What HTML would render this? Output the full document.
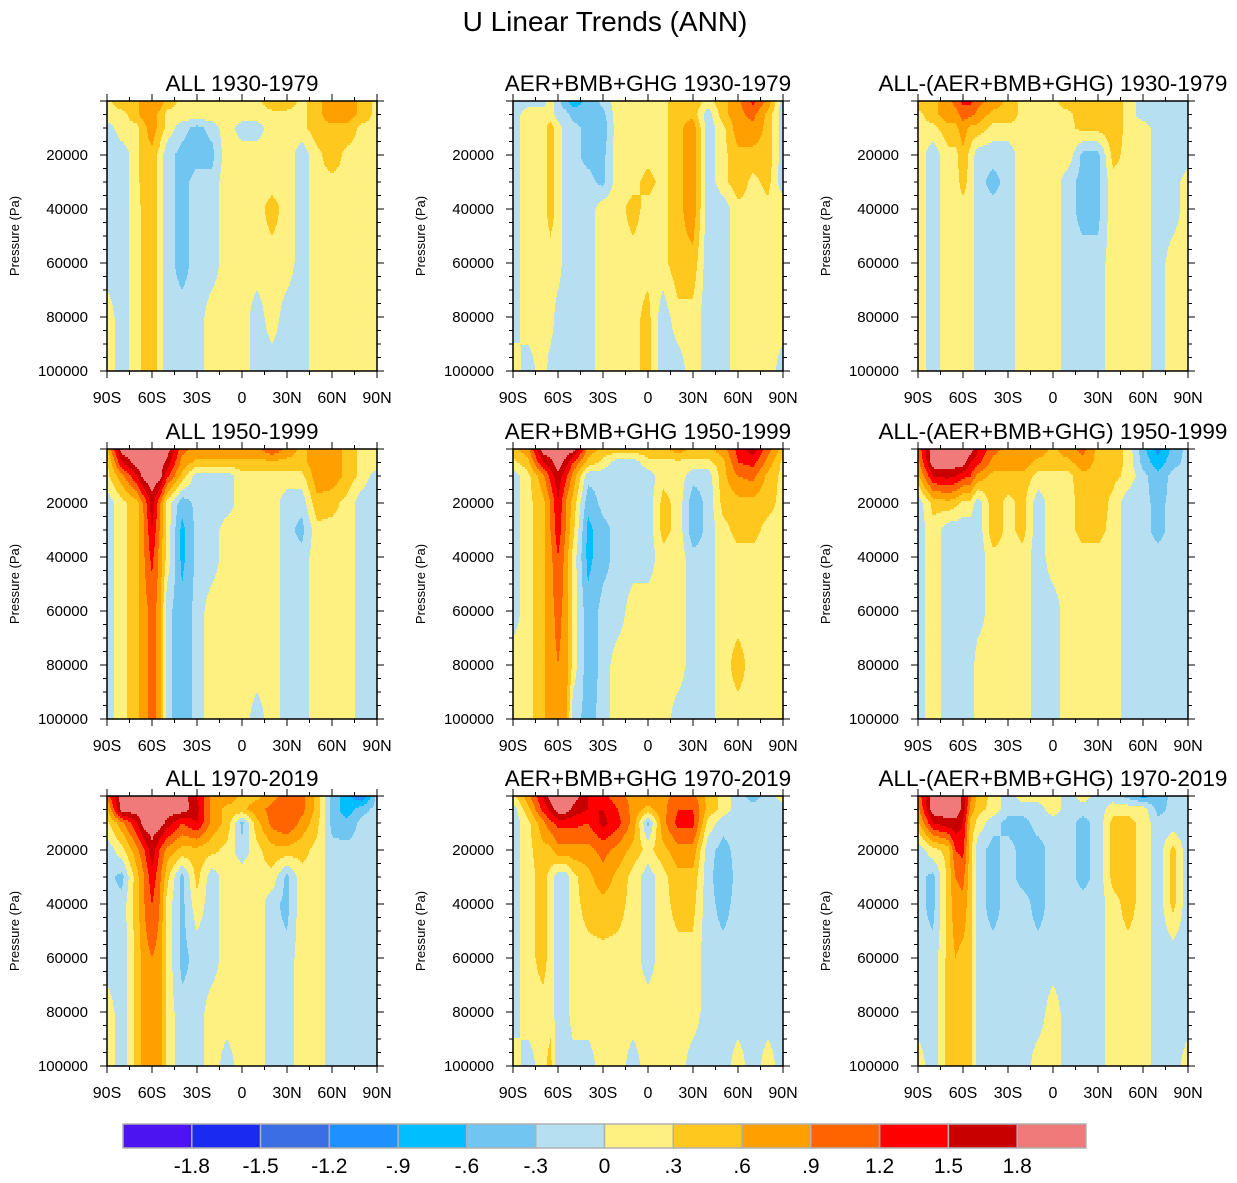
<!DOCTYPE html>
<html><head><meta charset="utf-8"><title>U Linear Trends (ANN)</title>
<style>
html,body{margin:0;padding:0;background:#fff;}
svg{display:block;font-family:"Liberation Sans",sans-serif;}
</style></head>
<body>
<svg id="fig" width="1237" height="1183" viewBox="0 0 1237 1183" xmlns="http://www.w3.org/2000/svg">
<text x="605" y="31" font-size="28" text-anchor="middle">U Linear Trends (ANN)</text>
</svg>
<script>
const lats = [-90,-80,-70,-65,-60,-55,-50,-40,-30,-20,-10,0,10,20,30,40,50,60,70,80,90];
const pressures = [0,5000,10000,20000,30000,40000,60000,80000,100000];
const titles = ["ALL 1930-1979","AER+BMB+GHG 1930-1979","ALL-(AER+BMB+GHG) 1930-1979",
"ALL 1950-1999","AER+BMB+GHG 1950-1999","ALL-(AER+BMB+GHG) 1950-1999",
"ALL 1970-2019","AER+BMB+GHG 1970-2019","ALL-(AER+BMB+GHG) 1970-2019"];
const yTicks = [20000,40000,60000,80000,100000];
const xTickLats = [-90,-60,-30,0,30,60,90];
const xTickLabels = ["90S","60S","30S","0","30N","60N","90N"];
const levels = [-1.8,-1.5,-1.2,-0.9,-0.6,-0.3,0,0.3,0.6,0.9,1.2,1.5,1.8];
const levelLabels = ["-1.8","-1.5","-1.2","-.9","-.6","-.3","0",".3",".6",".9","1.2","1.5","1.8"];
const palette = ["#4B14F0","#1A2AF0","#3C6EE3","#1E90FF","#00BEFF","#70C6F0","#B6DFF1","#FFF17F","#FFC81E","#FFA000","#FF6400","#FF0000","#C80000","#F07A7A"];

const panel1 = [
[.2,.5,.5,.8,.8,.8,.5,.2,.2,.2,.2,.2,.2,.5,.5,.2,.5,.8,.8,.5,.2],
[.2,.2,.5,.8,.8,.5,.2,.2,.2,.2,.2,.2,.2,.2,.2,.2,.5,.8,.8,.5,.2],
[-.2,.2,.2,.5,.8,.5,.2,-.2,-.4,-.2,.2,-.2,-.2,.2,.2,.2,.5,.5,.5,.2,.2],
[-.2,-.2,.2,.5,.5,.2,-.2,-.4,-.4,-.4,.2,.2,.2,.2,.2,-.2,.2,.5,.2,.2,.2],
[-.2,-.2,.2,.5,.5,.2,-.2,-.4,-.2,-.2,.2,.2,.2,.2,.2,-.2,.2,.2,.2,.2,.2],
[-.2,-.2,.2,.4,.5,.2,-.2,-.4,-.2,-.2,.2,.2,.2,.4,.2,-.2,.2,.2,.2,.2,.2],
[-.2,-.2,.2,.4,.5,.2,-.2,-.4,-.2,-.2,.2,.2,.2,.2,.2,-.2,.2,.2,.2,.2,.2],
[.2,-.2,.2,.4,.5,.2,-.2,-.2,-.2,.2,.2,.2,-.2,.2,-.2,-.2,.2,.2,.2,.2,.2],
[.2,-.2,.2,.4,.5,.2,-.2,-.2,-.2,.2,.2,.2,-.2,-.2,-.2,-.2,.2,.2,.2,.2,.2]];
const panel2 = [
[-.2,-.2,-.2,.2,-.2,-.5,-.8,-.5,-.2,.2,.2,.2,.2,.5,.5,.2,.5,.8,1.3,.8,-.2],
[-.2,.2,.2,.2,-.2,-.2,-.4,-.5,-.4,.2,.2,.2,.2,.5,.5,-.2,.5,.8,1.0,.5,-.2],
[-.2,.2,.2,.4,.2,-.2,-.2,-.4,-.5,.2,.2,.2,.2,.5,.8,-.2,.2,.8,.8,.5,-.2],
[-.2,.2,.2,.4,.2,-.2,-.2,-.4,-.4,.2,.2,.2,.2,.5,.8,-.2,.2,.5,.5,.5,-.2],
[-.2,.2,.2,.4,.2,-.2,-.2,-.2,-.4,.2,.2,.4,.2,.5,.8,-.2,.2,.5,.2,.4,-.2],
[-.2,.2,.2,.4,.2,-.2,-.2,-.2,.2,.2,.4,.2,.2,.5,.8,-.2,-.2,.2,.2,.2,.2],
[-.2,.2,.2,.2,.2,-.2,-.2,-.2,.2,.2,.2,.2,.2,.5,.5,-.2,-.2,.2,.2,.2,.2],
[-.2,.2,.2,.2,-.2,-.2,-.2,-.2,.2,.2,.2,.4,-.2,.2,.2,-.2,-.2,.2,.2,.2,.2],
[.2,-.2,.2,-.2,-.2,-.2,-.2,-.2,.2,.2,.2,.4,-.2,-.2,.2,-.2,-.2,.2,.2,.2,-.2]];
const panel3 = [
[.5,.5,.8,1.0,1.3,1.3,1.0,.8,.5,.2,.2,.2,.5,.5,.5,.5,.2,-.2,-.2,-.2,-.2],
[.2,.5,.8,.8,1.0,1.0,.8,.5,.5,.2,.2,.2,.2,.5,.5,.5,.2,-.2,-.2,-.2,-.2],
[.2,.2,.5,.5,.8,.5,.5,.2,.2,.2,.2,.2,.2,.4,.4,.5,.2,.2,-.2,-.2,-.2],
[.2,-.2,.2,.2,.5,.2,-.2,-.2,-.2,.2,.2,.2,.2,-.4,-.4,.4,.2,.2,-.2,-.2,-.2],
[.2,-.2,.2,.2,.4,.2,-.2,-.4,-.2,.2,.2,.2,-.2,-.4,-.4,.2,.2,.2,-.2,-.2,.2],
[.2,-.2,.2,.2,.2,.2,-.2,-.2,-.2,.2,.2,.2,-.2,-.4,-.4,.2,.2,.2,-.2,-.2,.2],
[.2,-.2,.2,.2,.2,.2,-.2,-.2,-.2,.2,.2,.2,-.2,-.2,-.2,.2,.2,.2,-.2,.2,.2],
[.2,-.2,.2,.2,.2,.2,-.2,-.2,-.2,.2,.2,.2,-.2,-.2,-.2,.2,.2,.2,-.2,.2,.2],
[.2,-.2,.2,.2,.2,.2,-.2,-.2,-.2,.2,.2,.2,-.2,-.2,-.2,.2,.2,.2,-.2,.2,.2]];
const panel4 = [
[.5,2,2,2,2,2,2,1.0,.8,.8,.8,.8,.8,1.2,.8,.5,.8,.8,.5,.2,.2],
[.2,1.5,2,2,2,2,1.7,.8,.5,.5,.5,.5,.5,.5,.5,.5,.8,.8,.5,.2,.2],
[.2,.8,1.5,2,2,2,1.3,.5,-.2,-.2,-.2,.2,.2,.2,.2,.2,.8,.8,.5,.2,-.2],
[-.2,.2,.5,1.0,1.7,1.0,.2,-.5,-.2,-.2,-.2,.2,.2,.2,-.2,-.2,.5,.4,.2,-.2,-.2],
[-.2,.2,.5,.9,1.5,.9,.2,-.7,-.2,-.2,.2,.2,.2,.2,-.2,-.4,.2,.2,.2,-.2,-.2],
[-.2,.2,.5,.9,1.3,.8,.2,-.7,-.2,-.2,.2,.2,.2,.2,-.2,-.2,.2,.2,.2,-.2,-.2],
[-.2,.2,.5,.8,1.0,.8,-.2,-.5,-.2,.2,.2,.2,.2,.2,-.2,-.2,.2,.2,.2,-.2,-.2],
[-.2,.2,.5,.8,1.0,.8,-.2,-.5,-.2,.2,.2,.2,.2,.2,-.2,-.2,.2,.2,.2,-.2,-.2],
[-.2,.2,.5,.8,1.0,.8,-.2,-.5,-.2,.2,.2,.2,-.2,.2,-.2,-.2,.2,.2,.2,-.2,-.2]];
const panel5 = [
[.5,.8,2,2,2,2,2,.8,.5,.5,.5,.5,.5,.8,.5,.5,.8,1.3,1.7,1.0,.5],
[.2,.5,1.5,1.7,2,1.7,1.2,.5,.2,-.2,-.2,.2,.2,.2,.2,.2,.5,1.2,1.3,.8,.2],
[-.2,.2,.8,1.3,1.7,1.3,.8,-.2,-.2,-.2,-.2,-.2,.2,.2,-.2,-.2,.5,.9,1.0,.5,.2],
[-.2,.2,.5,.9,1.5,.9,.5,-.5,-.2,-.2,-.2,-.2,.4,.2,-.5,-.2,.4,.5,.5,.4,.2],
[-.2,.2,.5,.9,1.4,.9,.4,-.7,-.4,-.2,-.2,-.2,.4,.2,-.5,-.2,.2,.4,.4,.2,.2],
[-.2,.2,.5,.8,1.2,.8,.2,-.7,-.4,-.2,-.2,-.2,.2,.2,-.2,-.2,.2,.2,.2,.2,.2],
[-.2,.2,.5,.8,1.0,.8,.2,-.5,-.2,-.2,.2,.2,.2,.2,-.2,-.2,.2,.2,.2,.2,.2],
[.2,.2,.5,.8,.9,.8,.2,-.5,-.2,.2,.2,.2,.2,.2,-.2,-.2,.2,.4,.2,.2,.2],
[.2,.2,.5,.8,.9,.8,-.2,-.4,-.2,.2,.2,.2,.2,-.2,-.2,-.2,.2,.2,.2,.2,.2]];
const panel6 = [
[1.0,2,2,2,2,2,1.5,1.0,.8,.8,.8,.5,.8,1.0,.5,.5,.2,-.5,-1.0,-.5,-.2],
[.8,2,2,2,2,1.5,1.3,.8,.8,.8,.5,.5,.5,.8,.5,.5,.2,-.4,-.8,-.4,-.2],
[.5,1.5,1.6,1.5,1.3,1.2,.8,.5,.5,.5,.2,.2,.2,.5,.5,.4,.2,-.2,-.5,-.2,-.2],
[-.2,.4,.5,.4,.2,.2,-.2,.5,.2,.4,-.2,.2,.2,.4,.5,.2,-.2,-.2,-.4,-.2,-.2],
[-.2,.2,-.2,-.2,-.2,-.2,-.2,.5,.2,.4,-.2,.2,.2,.4,.4,.2,-.2,-.2,-.4,-.2,-.2],
[-.2,.2,-.2,-.2,-.2,-.2,-.2,.2,.2,.2,-.2,.2,.2,.2,.2,.2,-.2,-.2,-.2,-.2,-.2],
[-.2,.2,-.2,-.2,-.2,-.2,-.2,.2,.2,.2,-.2,-.2,.2,.2,.2,.2,-.2,-.2,-.2,-.2,-.2],
[-.2,.2,-.2,-.2,-.2,-.2,.2,.2,.2,.2,-.2,-.2,.2,.2,.2,.2,-.2,-.2,-.2,-.2,-.2],
[-.2,.2,-.2,-.2,-.2,-.2,.2,.2,.2,.2,-.2,-.2,.2,.2,.2,.2,-.2,-.2,-.2,-.2,-.2]];
const panel7 = [
[1.0,2,2,2,2,2,2,2,1.5,.8,.8,.5,.5,.8,1.0,1.0,.5,-.4,-.8,-1.2,-.2],
[.5,2,2,2,2,2,2,2,1.6,.8,.5,.5,.8,1.0,1.2,1.0,.5,-.4,-.8,-.4,-.2],
[.2,.8,1.5,2,2,2,1.7,1.2,1.5,.8,.5,-.4,.5,1.0,1.2,.8,.4,-.4,-.5,-.2,-.2],
[-.2,.2,.8,1.2,1.7,1.2,.8,.5,.5,.4,.2,-.2,.2,.5,.5,.4,.2,-.2,-.2,-.2,-.2],
[-.2,-.4,.5,.9,1.4,1.0,.4,-.4,.4,-.2,.2,.2,.2,.2,-.4,.2,.2,-.2,-.2,-.2,-.2],
[-.2,-.2,.5,.9,1.2,.9,.2,-.4,.2,-.2,.2,.2,.2,-.2,-.4,.2,.2,-.2,-.2,-.2,-.2],
[-.2,-.2,.4,.8,.9,.8,.2,-.4,-.2,-.2,.2,.2,.2,-.2,-.2,.2,.2,-.2,-.2,-.2,-.2],
[.2,-.2,.4,.8,.8,.8,.2,-.2,-.2,.2,.2,.2,.2,-.2,-.2,.2,.2,-.2,-.2,-.2,-.2],
[.2,-.2,.4,.8,.8,.8,.2,-.2,-.2,.2,-.2,.2,.2,-.2,-.2,.2,.2,-.2,-.2,-.2,-.2]];
const panel8 = [
[.2,.8,1.5,2,2,2,2,1.5,1.3,1.0,.8,.8,.8,1.0,1.0,.5,.2,-.2,-.4,-.2,.2],
[-.2,.5,1.3,1.6,2,2,1.7,1.5,1.5,1.2,.8,.5,.8,1.2,1.2,.5,.2,-.2,-.2,-.2,-.2],
[-.2,.2,.8,1.1,1.3,1.3,1.3,1.2,1.6,1.3,.8,-.4,.8,1.3,1.3,.2,-.2,-.2,-.2,-.2,-.2],
[-.2,.2,.5,.5,.8,.8,.8,.8,1.0,.8,.5,.2,.5,.8,.8,-.2,-.4,-.2,-.2,-.2,-.2],
[-.2,.2,.4,.2,-.2,-.2,.2,.5,.8,.5,.2,-.2,.2,.5,.5,-.2,-.5,-.2,-.2,-.2,-.2],
[-.2,.2,.4,.2,-.2,-.2,.2,.4,.5,.4,.2,-.2,.2,.4,.4,-.2,-.4,-.2,-.2,-.2,-.2],
[-.2,.2,.4,.2,-.2,-.2,.2,.2,.2,.2,.2,-.2,.2,.2,.2,-.2,-.2,-.2,-.2,-.2,-.2],
[-.2,.2,.2,.2,-.2,-.2,.2,.2,.2,.2,.2,.2,.2,.2,.2,-.2,-.2,-.2,-.2,-.2,-.2],
[.2,-.2,.2,.4,-.2,-.2,-.2,-.2,.2,.2,-.2,.2,.2,.2,-.2,-.2,-.2,.2,-.2,.2,-.2]];
const panel9 = [
[1.0,2,2,2,1.7,1.0,.5,.2,-.2,.2,.2,.2,-.2,.2,-.2,-.2,-.4,-.7,-.5,-.2,-.2],
[.8,2,2,2,1.7,.8,.4,.2,-.2,-.2,-.2,.2,-.2,-.2,-.2,.2,.2,.2,-.4,-.2,-.2],
[.5,1.5,1.7,1.7,1.5,.5,.2,-.2,-.4,-.4,-.2,-.2,-.2,-.4,-.2,.4,.4,.2,-.2,-.2,-.2],
[-.2,.2,.4,1.2,1.3,.4,-.2,-.4,-.2,-.4,-.4,-.2,-.2,-.4,-.2,.4,.4,.2,-.2,.4,-.2],
[-.2,-.4,.4,.9,1.0,.4,-.2,-.4,-.2,-.4,-.4,-.2,-.2,-.4,-.2,.4,.4,.2,-.2,.4,-.2],
[-.2,-.4,.4,.8,.8,.4,-.2,-.4,-.2,-.2,-.4,-.2,-.2,-.2,-.2,.2,.4,.2,-.2,.4,-.2],
[-.2,-.2,.4,.6,.5,.4,-.2,-.2,-.2,-.2,-.2,-.2,-.2,-.2,-.2,.2,.2,.2,-.2,-.2,-.2],
[-.2,-.2,.4,.5,.5,.4,-.2,-.2,-.2,-.2,-.2,.2,-.2,-.2,-.2,.2,.2,.2,-.2,-.2,-.2],
[.2,-.2,.4,.5,.5,.4,-.2,-.2,-.2,-.2,.2,.2,-.2,-.2,-.2,.2,.2,.2,-.2,-.2,.2]];
const panels = [panel1,panel2,panel3,panel4,panel5,panel6,panel7,panel8,panel9];

const NS = "http://www.w3.org/2000/svg";
const svg = document.getElementById("fig");
const colLefts = [107,513,918], rowTops = [101,449,796], PW = 270, PH = 270;
function mk(tag, attrs, parent){const e=document.createElementNS(NS,tag);for(const k in attrs)e.setAttribute(k,attrs[k]);(parent||svg).appendChild(e);return e;}
function idxOf(v){let i=Math.floor((v+2.1)/0.3+1e-9);return Math.max(0,Math.min(13,i));}
function seg(arr,v){for(let i=0;i<arr.length-2;i++){if(v<arr[i+1])return i;}return arr.length-2;}
function sample(data,lat,p){
  const i=seg(lats,lat), j=seg(pressures,p);
  const tx=(lat-lats[i])/(lats[i+1]-lats[i]), ty=(p-pressures[j])/(pressures[j+1]-pressures[j]);
  const a=data[j][i],b=data[j][i+1],c=data[j+1][i],d=data[j+1][i+1];
  return (a*(1-tx)+b*tx)*(1-ty)+(c*(1-tx)+d*tx)*ty;
}

panels.forEach((data,k)=>{
  const L=colLefts[k%3], T=rowTops[Math.floor(k/3)];
  const xs=lat=>L+(lat+90)/180*PW, ys=p=>T+p/100000*PH;
  const g=mk("g",{});
  
  
  const step=2;
  for(let py=0;py<PH;py+=step){
    const p=(py+step/2)/PH*100000;
    let runStart=0, runIdx=-1;
    for(let px=0;px<=PW;px+=1){
      let id=-2;
      if(px<PW){const lat=(px+0.5)/PW*180-90; id=idxOf(sample(data,lat,p));}
      if(id!==runIdx){
        if(runIdx>=0){
          const r=mk("rect",{x:L+runStart,y:T+py,width:px-runStart+0.4,height:step+0.4,fill:palette[runIdx]},g);
          
          
        }
        runStart=px; runIdx=id;
      }
    }
  }
  const frame=mk("rect",{x:L,y:T,width:PW,height:PH,fill:"none",stroke:"#000","stroke-width":1.5});
  
  
  for(let p=0;p<=100000;p+=5000){
    const len=(p%20000===0)?7:4, y=ys(p);
    mk("line",{x1:L,y1:y,x2:L-len,y2:y,stroke:"#000","stroke-width":1});
    mk("line",{x1:L+PW,y1:y,x2:L+PW+len,y2:y,stroke:"#000","stroke-width":1});
  }
  for(let lat=-90;lat<=90;lat+=15){
    const len=(lat%30===0)?7:4, x=xs(lat);
    mk("line",{x1:x,y1:T,x2:x,y2:T-len,stroke:"#000","stroke-width":1});
    mk("line",{x1:x,y1:T+PH,x2:x,y2:T+PH+len,stroke:"#000","stroke-width":1});
  }
  yTicks.forEach(v=>{
    const t=mk("text",{x:L-19,y:ys(v)+5,"font-size":15,"text-anchor":"end"});
    t.textContent=v;
    
    
  });
  xTickLats.forEach((lat,i)=>{
    const t=mk("text",{x:xs(lat),y:T+PH+32,"font-size":16,"text-anchor":"middle"});
    t.textContent=xTickLabels[i];
    
    
  });
  const yl=mk("text",{x:0,y:0,"font-size":13,"text-anchor":"middle",transform:`translate(${L-88},${T+PH/2}) rotate(-90)`});
  yl.textContent="Pressure (Pa)";
  
  
  const tt=mk("text",{x:L+PW/2,y:T-10,"font-size":22.5,"text-anchor":"middle"});
  tt.textContent=titles[k];
  
  
});

const CBX=123, CBW=963, CBY=1124, CBH=24, boxW=CBW/palette.length;
palette.forEach((c,i)=>{
  const r=mk("rect",{x:CBX+i*boxW,y:CBY,width:boxW,height:CBH,fill:c,stroke:"#b0b0b0","stroke-width":1.5});
  
  
});
levels.forEach((v,i)=>{
  const t=mk("text",{x:CBX+(i+1)*boxW,y:1173,"font-size":21,"text-anchor":"middle"});
  t.textContent=levelLabels[i];
  
  
});
</script>
</body></html>
